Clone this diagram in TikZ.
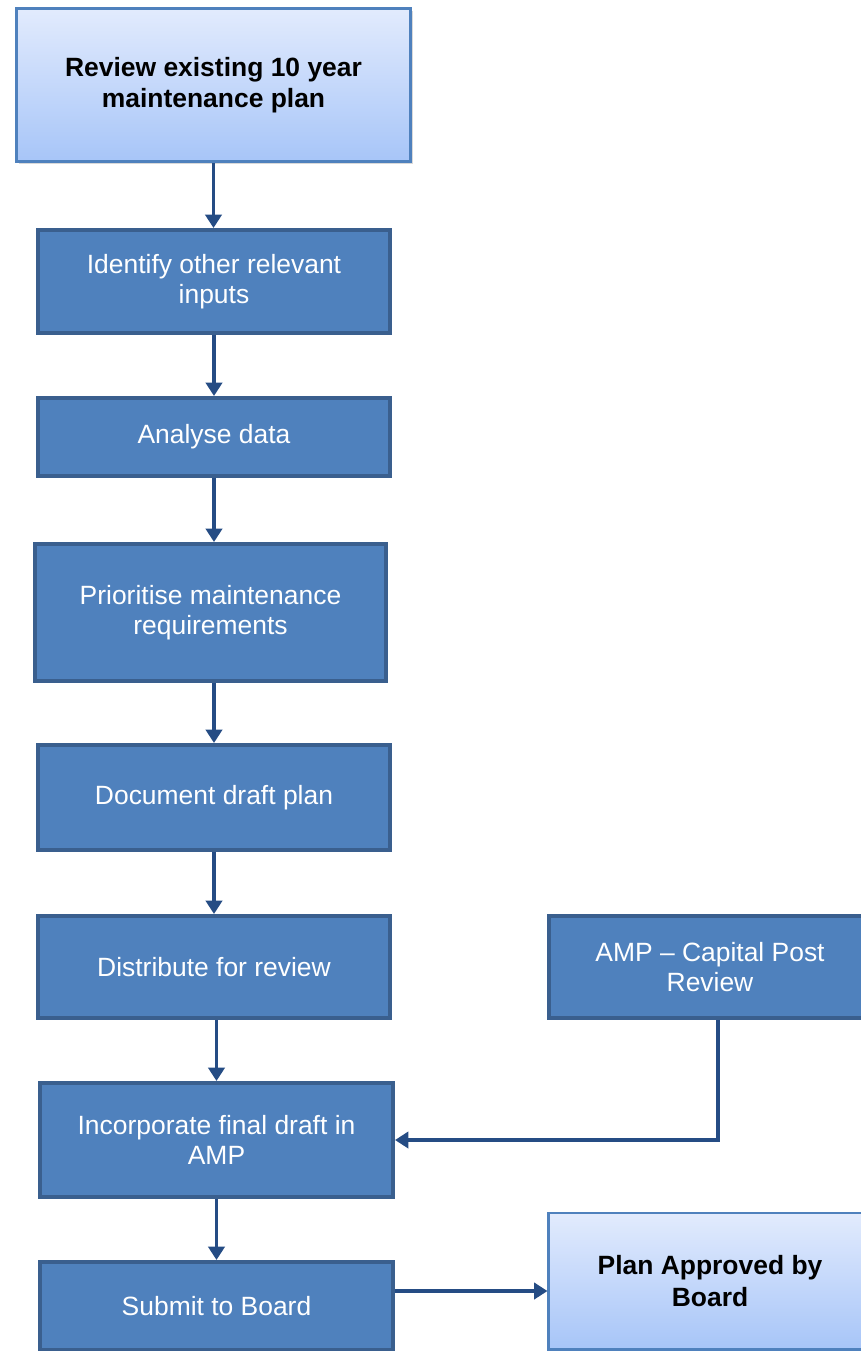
\documentclass[tikz,border=0pt]{standalone}
\usepackage{fontspec}
\setmainfont{Liberation Sans}
\usetikzlibrary{arrows.meta,shadows}
\definecolor{boxblue}{HTML}{4F81BD}
\definecolor{boxedge}{HTML}{3A5F8E}
\definecolor{linkblue}{HTML}{254C84}
\definecolor{paletop}{HTML}{E2EBFD}
\definecolor{palebottom}{HTML}{A7C5F8}
\tikzset{task/.style={draw=boxedge, fill=boxblue, line width=2.8pt, text=white, align=center, inner sep=0pt, minimum width=8.8cm, font=\fontsize{18.8pt}{21.5pt}\selectfont}}
\tikzset{milestone/.style={draw=boxblue, line width=2.1pt, top color=paletop, bottom color=palebottom, align=center, inner sep=0pt, font=\fontsize{18.8pt}{22.5pt}\selectfont\bfseries, drop shadow={opacity=0.3, shadow xshift=2pt, shadow yshift=-2pt}}}
\tikzset{flow/.style={draw=linkblue, line width=2.8pt, -{Triangle[length=9.5pt,width=11.5pt]}}}

\begin{document}
\begin{tikzpicture}[x=0.025cm, y=-0.025cm]
\useasboundingbox (0,0) rectangle (861,1351);
\node[milestone, minimum width=9.85cm, minimum height=3.825cm] (review) at (213.5,85) {Review existing 10 year\\maintenance plan};
\node[task, minimum height=2.575cm] (identify) at (214,281.5) {Identify other relevant\\inputs};
\node[task, minimum height=1.95cm] (analyse) at (214,437) {Analyse data};
\node[task, minimum width=8.775cm, minimum height=3.425cm] (prioritise) at (210.5,612.5) {Prioritise maintenance\\requirements};
\node[task, minimum height=2.625cm] (document) at (214,797.5) {Document draft plan};
\node[task, minimum height=2.55cm] (distribute) at (214,967) {Distribute for review};
\node[task, minimum width=8.05cm, minimum height=2.55cm] (capital) at (710,967) {AMP -- Capital Post\\Review};
\node[task, minimum width=8.825cm, minimum height=2.85cm] (incorporate) at (216.5,1140) {Incorporate final draft in\\AMP};
\node[task, minimum width=8.825cm, minimum height=2.2cm] (submit) at (216.5,1306) {Submit to Board};
\node[milestone, minimum width=8.05cm, minimum height=3.4cm] (approved) at (710,1281) {Plan Approved by\\Board};
\draw[flow] (review.south) -- (review.south |- identify.north);
\draw[flow] (identify.south) -- (analyse.north);
\draw[flow] (analyse.south) -- (analyse.south |- prioritise.north);
\draw[flow] (prioritise.south -| analyse.south) -- (document.north);
\draw[flow] (document.south) -- (distribute.north);
\draw[flow] (incorporate.north |- distribute.south) -- (incorporate.north);
\draw[flow] (incorporate.south) -- (submit.north);
\draw[flow] ([xshift=0.2cm]capital.south) |- (incorporate.east);
\draw[flow] ([yshift=0.375cm]submit.east) -- ([yshift=0.375cm]submit.east -| approved.west);
\end{tikzpicture}
\end{document}
